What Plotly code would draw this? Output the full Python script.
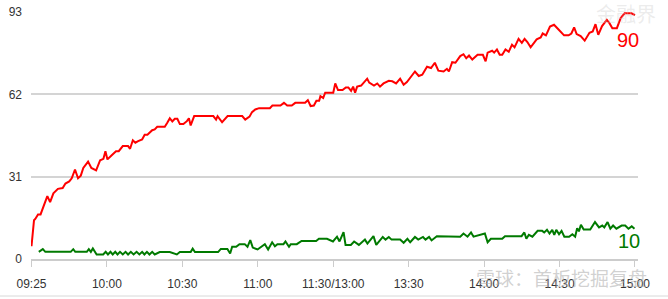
import plotly.graph_objects as go

# minute index (0 = 09:25/09:30 open, 240 = 15:00) and values
red_t = [0, 1, 1.5, 2.6, 3.6, 4.6, 6.3, 7.4, 8.7, 10.5, 12.4, 13.5, 15, 16, 17.3, 18.5, 19.6, 20.6, 22.5, 23.8,
         25.7, 27.3, 28.6, 29.4, 30.2, 31.8, 33.6, 34.7, 36.3, 38.4, 39.2, 40.3, 41.3, 42.4, 44, 45, 46.1, 48, 49, 50,
         53, 54, 55, 56, 57, 58, 59, 60.4, 61.8, 62.6, 63.3, 64.7, 72.3, 73.4, 74, 75.8, 78, 83.8, 85, 86.7,
         87.7, 89, 90.5, 94.8, 95.8, 99, 100.4, 101.7, 103.5, 104.9, 108.8, 109.9, 111, 112.3, 113.3, 114.4, 114.9, 116, 116.8, 120,
         120.8, 121.9, 123.7, 125, 126, 127.1, 127.9, 128.7, 129.5, 131.1, 132.2, 133.5, 134.3, 136.2, 137.5, 138.6, 140, 142.1, 143.5, 145,
         146.6, 148, 149.3, 152.5, 154, 155.4, 157.3, 158.9, 160.4, 161.8, 163.9, 165.2, 166, 167.3, 168.6, 170.5, 171.8, 172.9, 174, 175.3,
         177.4, 179.5, 180.6, 181.4, 183.2, 184, 185.1, 186.2, 187.2, 188.5, 189.8, 191.1, 192.1, 193.7, 195, 196.1, 197.2, 198.5, 200.9, 202.5,
         203.3, 204.6, 206.2, 207.8, 209.6, 211.8, 213.6, 214.7, 215.8, 216.8, 218.4, 220, 221.9, 223.2, 224.3, 225.4, 226.9, 228.8, 229.9, 231,
         232.8, 234.3, 235.9, 238.6, 240]
red_v = [4.8, 14.6, 15.1, 16.8, 16.8, 19.3, 23.7, 21.4, 24.7, 26.4, 26.7, 28.4, 29.2, 30.4, 33.7, 30.4, 31.4, 34.3, 36.7, 34.3,
         33.4, 37.2, 37.7, 40.6, 37.5, 39, 40.6, 40.6, 42.5, 42.5, 41.5, 44.7, 43.8, 44.4, 45, 46.8, 46.8, 48.5, 48.8, 49.8,
         49.8, 51.3, 53, 51.8, 52.8, 52.8, 50.8, 50.8, 51.9, 53, 50.3, 53.8, 53.8, 52.5, 53.8, 51.5, 53.8, 53.8, 52.5, 53.6,
         55.3, 56.3, 56.8, 56.8, 57.8, 57.8, 58.8, 57.8, 57.8, 58.8, 58.8, 59.8, 57.6, 57.8, 59.6, 59.6, 61.3, 60.6, 62.6, 62.6,
         66.1, 63.6, 63.6, 64.6, 64.6, 63.3, 64.9, 62.6, 64.9, 65.3, 66.4, 67.9, 66.4, 65.3, 66.1, 64.9, 66.1, 67.1, 66.9, 66.1,
         67.9, 65.6, 66.6, 70.6, 68.9, 69.4, 72.4, 71.9, 73.9, 70.9, 70.6, 71.6, 70.6, 74.1, 73.9, 76.4, 77.1, 75.6, 76.6, 75.1,
         76.9, 76.9, 74.4, 77.7, 78.4, 77.7, 78.9, 76.9, 76.9, 78.9, 78, 80.7, 79.7, 82.9, 81.4, 82.9, 81.7, 79.7, 82.7, 83.4,
         84.9, 84.2, 87.5, 88.2, 86.4, 84.2, 84.2, 84.9, 87.2, 84.7, 83.9, 82.2, 85.2, 85.7, 88.4, 84.4, 87.7, 90, 88.7, 86.9,
         86.9, 90.7, 92.5, 92.5, 91.8]

green_t = [2.9, 4.5, 5.5, 15.6, 16.6, 17.4, 22, 22.8, 23.6, 24.4, 25.9, 28.5,
           29.5, 30.4, 31.4, 32.3, 33.3, 34.2, 35.2, 36.3, 37.4, 38.4, 39.5, 40.6, 41.8, 42.9, 44, 44.9, 45.9, 46.9, 48, 49,
           51, 55, 57.8, 59, 63.3, 64.1, 65, 74.2, 75.3, 77.9, 79, 79.8, 81.4, 82.7, 84.8, 85.9, 87, 88,
           89.9, 91.5, 92.8, 94.1, 95.7, 96.8, 97.8, 100.2, 101, 102.4, 103.1, 105.5, 107.4, 113.2, 114.3, 117.5, 119.9, 121.5, 122.5, 124.1,
           124.9, 127, 128.3, 130.2, 132.6, 133.6, 136, 137.1, 139.7, 140.8, 142.1, 143.2, 146.6, 148, 149.5, 150.6, 152.5, 153.8, 155.7, 156.7,
           158.1, 159.1, 161.2, 170.5, 171.8, 173.4, 174.8, 175.8, 179, 180.3, 181.4, 182.7, 187.2, 188.3, 194.9, 196, 196.8, 197.8, 199.2, 201.3,
           203.1, 203.9, 205, 206, 207.1, 207.9, 208.7, 209.8, 210.8, 211.9, 213.8, 215.1, 216.2, 217, 217.7, 218.5, 219.6, 222.2, 224.1, 225.7,
           227, 227.8, 229.1, 230.2, 231.3, 232.6, 234.7, 236.1, 237.4, 238.7, 239.8]
green_v = [2.7, 3.7, 2.7, 2.7, 3.7, 2.7, 2.7, 3.7, 2.7, 4.0, 1.7, 1.7,
           2.7, 1.7, 2.7, 1.7, 2.7, 1.7, 2.7, 1.7, 2.7, 1.7, 2.7, 1.7, 2.7, 1.7, 2.7, 1.7, 2.7, 1.7, 2.7, 1.7,
           2.6, 2.6, 1.7, 2.6, 2.6, 3.9, 2.6, 2.6, 3.8, 3.8, 2.1, 4.6, 4.6, 5.6, 5.6, 4.6, 7.1, 4.3,
           3.6, 4.6, 5.6, 3.6, 6.3, 4.8, 5.6, 5.6, 6.6, 4.6, 5.6, 5.6, 6.8, 6.8, 7.6, 7.6, 6.6, 8.4, 6.6, 10.1,
           5.3, 5.3, 6.6, 5.3, 7.3, 5.8, 8.6, 5.3, 8.3, 7.3, 8.3, 7.3, 7.3, 6.1, 7.6, 6.3, 8.3, 7.3, 8.3, 7.3,
           8.3, 7.0, 8.6, 8.4, 9.6, 8.4, 10.0, 8.4, 9.1, 9.6, 6.3, 7.6, 7.6, 8.6, 8.6, 10.0, 7.6, 9.1, 8.4, 10.6,
           10.6, 10.0, 11.0, 9.6, 11.0, 9.1, 11.0, 9.3, 10.6, 8.4, 8.4, 9.3, 8.4, 11.6, 10.4, 12.9, 11.1, 11.1, 13.9, 11.9,
           12.6, 11.9, 13.9, 11.4, 12.6, 11.4, 12.6, 12.6, 11.4, 12.3, 11.4]

x_tickvals = [0, 30, 60, 90, 120, 150, 180, 210, 240]
x_ticktext = ["09:25", "10:00", "10:30", "11:00", "11:30/13:00", "13:30", "14:00", "14:30", "15:00"]
y_tickvals = [0, 31, 62, 93]
red_label = "90"
green_label = "10"

FONT = "Liberation Sans, Arial, sans-serif"

fig = go.Figure()
fig.add_trace(go.Scatter(x=red_t, y=red_v, mode="lines", line=dict(color="#ff0000", width=2), hoverinfo="skip"))
fig.add_trace(go.Scatter(x=green_t, y=green_v, mode="lines", line=dict(color="#007a00", width=2), hoverinfo="skip"))

fig.add_annotation(x=237.4, y=82.5, text=red_label, showarrow=False, xanchor="center", yanchor="middle",
                   font=dict(family=FONT, size=20, color="#ff0000"))
fig.add_annotation(x=237.6, y=6.6, text=green_label, showarrow=False, xanchor="center", yanchor="middle",
                   font=dict(family=FONT, size=20, color="#007a00"))

# watermarks
fig.add_annotation(x=(561 - 31) / 607, y=(259 - 277) / 247, xref="paper", yref="paper", text="雪球：首板挖掘复盘",
                   showarrow=False, xanchor="center", yanchor="middle",
                   font=dict(family="Noto Sans CJK SC", size=19, color="rgba(170,170,170,0.55)"))
fig.add_annotation(x=(626 - 31) / 607, y=(259 - 14) / 247, xref="paper", yref="paper", text="金融界", showarrow=False,
                   xanchor="center", yanchor="middle",
                   font=dict(family="Noto Sans CJK SC", size=20, color="rgba(200,200,200,0.35)"))

fig.add_shape(type="line", xref="paper", yref="paper", x0=-31 / 607, x1=(668 - 31) / 607,
              y0=-(296 - 259) / 247, y1=-(296 - 259) / 247, line=dict(color="#d8d8d8", width=1))

fig.update_layout(
    width=668, height=299,
    margin=dict(l=31, r=30, t=12, b=40, autoexpand=False),
    paper_bgcolor="white", plot_bgcolor="white",
    showlegend=False,
    font=dict(family=FONT, size=12, color="#333333"),
    xaxis=dict(range=[-0.2, 241.2], tickvals=x_tickvals, ticktext=x_ticktext, showgrid=False, zeroline=False,
               showline=True, linecolor="#cccccc", linewidth=2, ticks="outside", ticklen=6, tickcolor="#cccccc",
               tickwidth=1, ticklabelstandoff=7, automargin=False, tickfont=dict(size=12, color="#333333"),
               fixedrange=True),
    yaxis=dict(range=[0, 93], tickvals=y_tickvals, showgrid=True, gridcolor="#d4d4d4", gridwidth=2, zeroline=False,
               showline=False, ticks="", ticklabelstandoff=8, automargin=False, tickfont=dict(size=12, color="#333333"),
               fixedrange=True),
)

fig.write_html("out.html")
